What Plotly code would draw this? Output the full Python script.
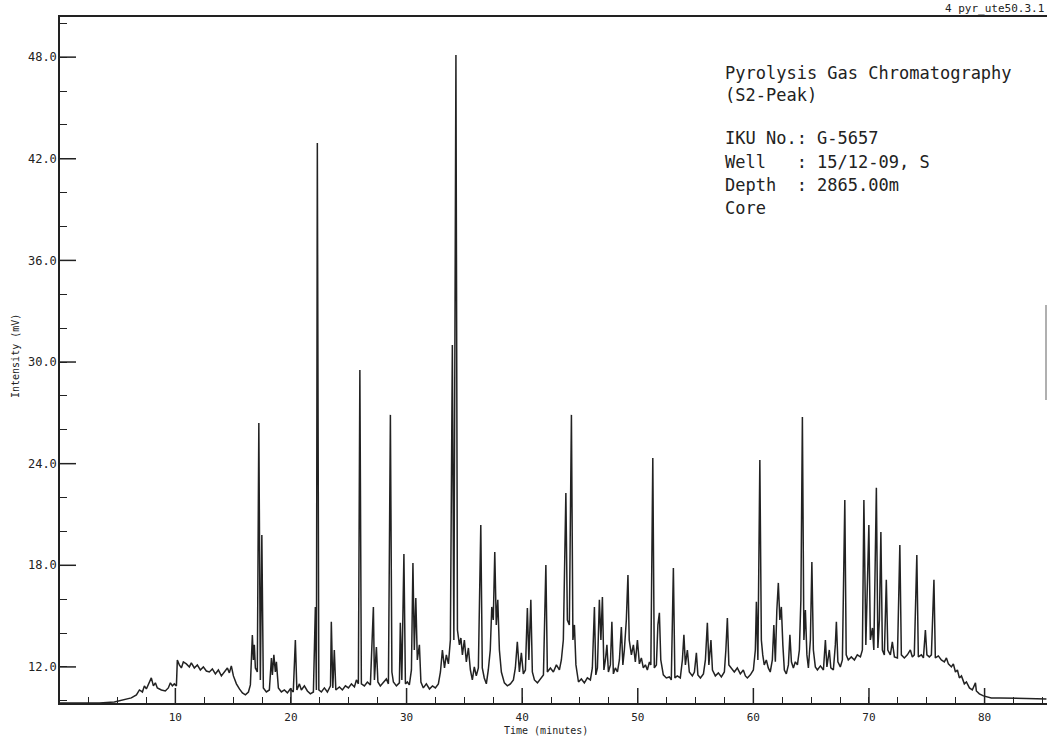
import plotly.graph_objects as go

# Pyrolysis GC trace (S2 peak): retention time in minutes, detector signal in mV
TIME_MIN = [
    0.00, 3.43, 4.72, 5.59, 6.19, 6.63, 6.89, 7.15, 7.32, 7.49, 7.75, 7.92, 8.10, 8.27, 8.44,
    8.79, 9.13, 9.39, 9.57, 9.74, 9.91, 10.09, 10.17, 10.34, 10.52, 10.69, 10.95, 11.21, 11.38,
    11.64, 11.90, 12.16, 12.42, 12.68, 12.94, 13.20, 13.46, 13.72, 13.98, 14.24, 14.50, 14.67,
    14.84, 15.02, 15.28, 15.54, 15.80, 16.06, 16.32, 16.49, 16.66, 16.75, 16.83, 16.92, 17.09,
    17.22, 17.35, 17.48, 17.61, 17.87, 18.13, 18.31, 18.39, 18.52, 18.65, 18.74, 18.91, 19.17,
    19.43, 19.69, 19.94, 20.20, 20.38, 20.51, 20.73, 20.90, 21.16, 21.42, 21.68, 21.94, 22.11,
    22.20, 22.28, 22.41, 22.63, 22.89, 23.15, 23.42, 23.49, 23.62, 23.75, 23.88, 24.19, 24.45,
    24.71, 24.97, 25.23, 25.49, 25.66, 25.83, 25.96, 26.09, 26.35, 26.61, 26.87, 27.13, 27.22,
    27.39, 27.52, 27.73, 27.99, 28.25, 28.43, 28.60, 28.73, 28.86, 29.12, 29.38, 29.46, 29.59,
    29.77, 29.90, 30.07, 30.24, 30.42, 30.55, 30.67, 30.80, 30.93, 31.11, 31.24, 31.45, 31.71,
    31.98, 32.24, 32.49, 32.75, 32.93, 33.10, 33.28, 33.44, 33.62, 33.79, 33.96, 34.09, 34.27,
    34.40, 34.57, 34.70, 34.83, 35.00, 35.17, 35.35, 35.52, 35.69, 35.86, 36.03, 36.21, 36.42,
    36.55, 36.72, 36.90, 37.07, 37.24, 37.37, 37.50, 37.63, 37.76, 37.89, 38.03, 38.20, 38.46,
    38.72, 38.98, 39.24, 39.41, 39.58, 39.76, 39.93, 40.10, 40.28, 40.45, 40.58, 40.75, 40.88,
    41.06, 41.32, 41.58, 41.84, 42.05, 42.18, 42.44, 42.70, 42.96, 43.22, 43.39, 43.56, 43.78,
    43.91, 44.08, 44.26, 44.39, 44.52, 44.65, 44.87, 45.12, 45.38, 45.64, 45.90, 46.07, 46.25,
    46.37, 46.51, 46.68, 46.81, 46.94, 47.07, 47.20, 47.33, 47.46, 47.63, 47.76, 47.89, 48.06,
    48.24, 48.41, 48.58, 48.71, 48.84, 49.01, 49.15, 49.26, 49.45, 49.62, 49.79, 49.97, 50.14,
    50.31, 50.48, 50.66, 50.83, 51.01, 51.13, 51.30, 51.43, 51.61, 51.74, 51.87, 51.99, 52.21,
    52.47, 52.73, 52.90, 53.08, 53.21, 53.42, 53.68, 53.86, 53.99, 54.12, 54.29, 54.46, 54.72,
    54.90, 55.07, 55.20, 55.42, 55.68, 55.85, 56.02, 56.15, 56.33, 56.46, 56.71, 56.97, 57.23,
    57.49, 57.62, 57.75, 57.88, 58.09, 58.35, 58.61, 58.87, 59.13, 59.31, 59.48, 59.74, 60.00,
    60.17, 60.26, 60.39, 60.56, 60.69, 60.81, 60.94, 61.12, 61.29, 61.46, 61.64, 61.77, 61.90,
    62.03, 62.16, 62.29, 62.42, 62.55, 62.68, 62.85, 63.03, 63.16, 63.29, 63.46, 63.63, 63.81,
    63.98, 64.11, 64.24, 64.37, 64.50, 64.63, 64.76, 64.93, 65.06, 65.19, 65.36, 65.54, 65.80,
    66.06, 66.23, 66.36, 66.57, 66.70, 66.92, 67.09, 67.18, 67.31, 67.52, 67.70, 67.91, 68.03,
    68.21, 68.47, 68.74, 68.99, 69.26, 69.43, 69.56, 69.73, 69.99, 70.12, 70.30, 70.42, 70.64,
    70.77, 70.90, 71.03, 71.16, 71.33, 71.50, 71.63, 71.85, 72.02, 72.20, 72.46, 72.67, 72.80,
    73.06, 73.32, 73.58, 73.75, 73.92, 74.14, 74.27, 74.53, 74.71, 74.88, 75.01, 75.22, 75.40,
    75.62, 75.74, 76.00, 76.26, 76.52, 76.70, 76.87, 77.13, 77.30, 77.48, 77.65, 77.82, 78.00,
    78.25, 78.43, 78.69, 78.94, 79.21, 79.29, 79.55, 79.90, 80.24, 80.58, 81.28, 83.01, 85.35,
]

INTENSITY_MV = [
    9.87, 9.87, 9.93, 10.05, 10.17, 10.35, 10.64, 10.52, 10.88, 10.70, 11.11, 11.35, 10.88, 11.06, 10.76,
    10.64, 10.58, 10.76, 11.06, 10.88, 11.00, 10.88, 12.41, 12.12, 11.94, 12.30, 12.18, 12.00, 12.24,
    11.94, 12.12, 11.82, 12.00, 11.76, 11.70, 11.88, 11.59, 11.82, 11.47, 11.70, 11.94, 11.65,
    12.06, 11.47, 11.00, 10.70, 10.47, 10.35, 10.52, 10.94, 13.89, 12.41, 13.30, 11.94, 11.70,
    26.40, 11.23, 19.79, 10.76, 10.52, 10.64, 12.53, 11.53, 12.71, 11.70, 12.30, 10.76, 10.52,
    10.64, 10.47, 10.70, 10.52, 13.59, 10.64, 11.00, 10.64, 10.88, 10.58, 10.41, 10.52, 15.54,
    10.64, 42.93, 10.64, 10.52, 10.76, 10.52, 10.88, 14.66, 10.76, 13.00, 10.64, 10.82, 10.64,
    10.88, 10.76, 11.00, 10.82, 11.23, 11.00, 29.53, 11.00, 10.88, 11.11, 10.94, 15.54, 11.23,
    13.18, 11.11, 10.88, 11.06, 11.29, 11.00, 26.88, 11.70, 11.11, 10.88, 11.06, 14.60, 11.23,
    18.67, 11.00, 11.11, 10.94, 11.82, 18.14, 13.00, 16.07, 12.41, 13.30, 11.11, 10.76, 11.00,
    10.70, 10.88, 10.76, 11.00, 11.70, 13.00, 11.94, 12.71, 12.18, 13.59, 31.01, 13.59, 48.13,
    14.18, 13.30, 13.71, 12.71, 13.59, 12.30, 13.12, 11.82, 11.23, 12.00, 11.47, 11.94, 20.38,
    11.94, 11.35, 11.00, 11.82, 13.00, 15.54, 14.77, 18.79, 14.48, 15.96, 13.00, 11.70, 11.06,
    10.88, 11.00, 11.23, 11.94, 13.48, 11.70, 12.83, 11.59, 11.82, 15.48, 12.41, 15.96, 11.70,
    11.23, 11.06, 11.29, 11.53, 18.02, 11.70, 11.94, 11.70, 12.12, 11.82, 12.41, 13.59, 22.27,
    14.77, 14.48, 26.88, 13.59, 14.48, 12.12, 11.11, 11.29, 11.06, 11.35, 11.23, 11.94, 15.54,
    11.53, 11.94, 15.96, 13.59, 16.13, 11.82, 12.41, 13.30, 11.70, 12.12, 14.66, 11.59, 11.94,
    11.70, 12.41, 14.36, 12.12, 13.00, 14.77, 17.43, 13.59, 12.71, 13.30, 12.30, 13.59, 12.18,
    12.53, 11.94, 12.12, 11.82, 12.30, 12.12, 24.34, 11.94, 12.12, 14.48, 15.19, 12.41, 11.53,
    11.35, 11.41, 11.23, 17.84, 11.35, 11.47, 11.35, 12.41, 13.89, 12.12, 13.00, 11.70, 11.47,
    11.70, 12.83, 11.53, 11.35, 11.59, 12.41, 14.60, 12.12, 13.59, 11.82, 11.47, 11.65, 11.41,
    11.70, 13.00, 14.89, 12.12, 11.94, 11.70, 11.94, 11.59, 11.82, 11.47, 11.35, 11.53, 11.82,
    13.00, 15.84, 12.41, 24.22, 13.59, 12.71, 12.12, 12.41, 11.94, 11.70, 12.41, 14.48, 12.30,
    15.36, 16.96, 14.77, 15.54, 13.30, 11.82, 11.59, 12.12, 13.89, 12.30, 11.94, 12.30, 12.12,
    13.00, 15.96, 26.76, 13.59, 15.36, 12.71, 11.94, 13.59, 18.20, 13.00, 12.00, 11.82, 12.06,
    11.82, 13.59, 12.00, 13.00, 11.94, 11.82, 13.30, 14.66, 12.30, 12.00, 12.41, 21.86, 12.71,
    12.41, 12.59, 12.41, 12.71, 12.59, 13.00, 21.86, 13.30, 20.38, 13.59, 14.30, 13.00, 22.57,
    13.12, 14.77, 19.97, 13.00, 12.71, 17.14, 13.00, 12.71, 13.48, 12.59, 12.53, 19.20, 12.71,
    12.53, 12.71, 13.00, 12.59, 12.71, 18.61, 12.59, 12.71, 12.53, 14.18, 12.71, 12.59, 12.71,
    17.14, 12.53, 12.65, 12.41, 12.30, 12.53, 12.18, 12.00, 12.18, 11.70, 11.82, 11.35, 11.47,
    11.00, 11.11, 10.76, 10.64, 11.06, 10.58, 10.41, 10.29, 10.23, 10.17, 10.17, 10.14, 10.11,
]

# axis tick spacing (major / minor)
X_MAJOR_STEP, X_MINOR_STEP = 10, 2.5
Y_MAJOR_STEP, Y_MINOR_STEP = 6, 2
X_RANGE = [0.02, 85.4]
Y_RANGE = [9.87, 50.37]

INFO_LINES = [
    "Pyrolysis Gas Chromatography",
    "(S2-Peak)",
    "IKU No.: G-5657",
    "Well   : 15/12-09, S",
    "Depth  : 2865.00m",
    "Core",
]

INK = "#222222"
MONO = "DejaVu Sans Mono"

W, H = 1047, 740
ML, MR, MT, MB = 60, 0, 17, 37
PW, PH = W - ML - MR, H - MT - MB


def px_to_paper(x_px, y_px):
    return (x_px - ML) / PW, (H - MB - y_px) / PH


fig = go.Figure()
fig.add_trace(go.Scatter(
    x=TIME_MIN, y=INTENSITY_MV, mode="lines",
    line=dict(color=INK, width=1.5),
    hoverinfo="skip", showlegend=False,
))
# anchor trace for the overlay axes that carry the short tick marks
fig.add_trace(go.Scatter(
    x=TIME_MIN[:1], y=INTENSITY_MV[:1], mode="lines", xaxis="x2", yaxis="y2",
    line=dict(width=0), hoverinfo="skip", showlegend=False,
))

fig.update_layout(
    width=W, height=H,
    margin=dict(l=ML, r=MR, t=MT, b=MB, pad=0),
    paper_bgcolor="white", plot_bgcolor="white",
    font=dict(family=MONO, color=INK, size=11),
    showlegend=False,
    xaxis=dict(
        range=X_RANGE, showgrid=False, zeroline=False,
        showline=True, linecolor=INK, linewidth=1.5, mirror=True,
        tickmode="linear", tick0=0, dtick=X_MAJOR_STEP, ticks="",
        tickfont=dict(family=MONO, size=11, color=INK),
        ticklabelstandoff=3,
    ),
    yaxis=dict(
        range=Y_RANGE, showgrid=False, zeroline=False,
        showline=True, linecolor=INK, linewidth=1.5,
        tickmode="linear", tick0=0, dtick=Y_MAJOR_STEP, tickformat=".1f", ticks="",
        tickfont=dict(family=MONO, size=12, color=INK),
        ticklabelstandoff=-1,
    ),
    xaxis2=dict(
        range=X_RANGE, overlaying="x", side="bottom", anchor="y2",
        showgrid=False, zeroline=False, showline=False, showticklabels=False,
        tickmode="linear", tick0=0, dtick=X_MINOR_STEP,
        ticks="inside", ticklen=6, tickwidth=1, tickcolor=INK,
    ),
    yaxis2=dict(
        range=Y_RANGE, overlaying="y", side="left", anchor="x2",
        showgrid=False, zeroline=False, showline=False, showticklabels=False,
        tickmode="linear", tick0=0, dtick=Y_MINOR_STEP,
        ticks="inside", ticklen=7, tickwidth=1, tickcolor=INK,
    ),
)

# long marks at the labelled ticks
x_major = [v for v in range(X_MAJOR_STEP, int(X_RANGE[1]) + 1, X_MAJOR_STEP)]
y_major = [v for v in range(12, int(Y_RANGE[1]) + 1, Y_MAJOR_STEP)]
for v in x_major:
    fig.add_shape(type="line", xref="x", yref="paper", x0=v, x1=v, y0=0, y1=15 / PH,
                  line=dict(color=INK, width=1.5))
for v in y_major:
    fig.add_shape(type="line", xref="paper", yref="y", x0=0, x1=16 / PW, y0=v, y1=v,
                  line=dict(color=INK, width=1.5))

# header block in the upper right
line_centres = [73, 95, 138, 162, 185, 208]
for text, yc in zip(INFO_LINES, line_centres):
    ax, ay = px_to_paper(723, yc)
    fig.add_annotation(
        x=ax, y=ay, xref="paper", yref="paper",
        text=text.replace(" ", "\u00a0"), showarrow=False,
        xanchor="left", yanchor="middle",
        font=dict(family=MONO, size=17, color=INK),
    )

# file tag above the frame
tx, ty = px_to_paper(1046, 8)
fig.add_annotation(
    x=tx, y=ty, xref="paper", yref="paper", text="4\u00a0pyr_ute50.3.1",
    showarrow=False, xanchor="right", yanchor="middle",
    font=dict(family=MONO, size=11, color=INK),
)

# axis titles
xt, yt = px_to_paper(546, 730)
fig.add_annotation(
    x=xt, y=yt, xref="paper", yref="paper", text="Time\u00a0(minutes)",
    showarrow=False, xanchor="center", yanchor="middle",
    font=dict(family=MONO, size=10, color=INK),
)
xt, yt = px_to_paper(15, 356)
fig.add_annotation(
    x=xt, y=yt, xref="paper", yref="paper", text="Intensity\u00a0(mV)",
    showarrow=False, xanchor="center", yanchor="middle", textangle=-90,
    font=dict(family=MONO, size=10, color=INK),
)

# faint vertical mark at the right edge
x0, y0 = px_to_paper(1046, 305)
x1, y1 = px_to_paper(1046, 400)
fig.add_shape(type="line", xref="paper", yref="paper", x0=x0, x1=x1, y0=y0, y1=y1,
              line=dict(color="#b0b0b0", width=2))

fig.write_html("out.html")
